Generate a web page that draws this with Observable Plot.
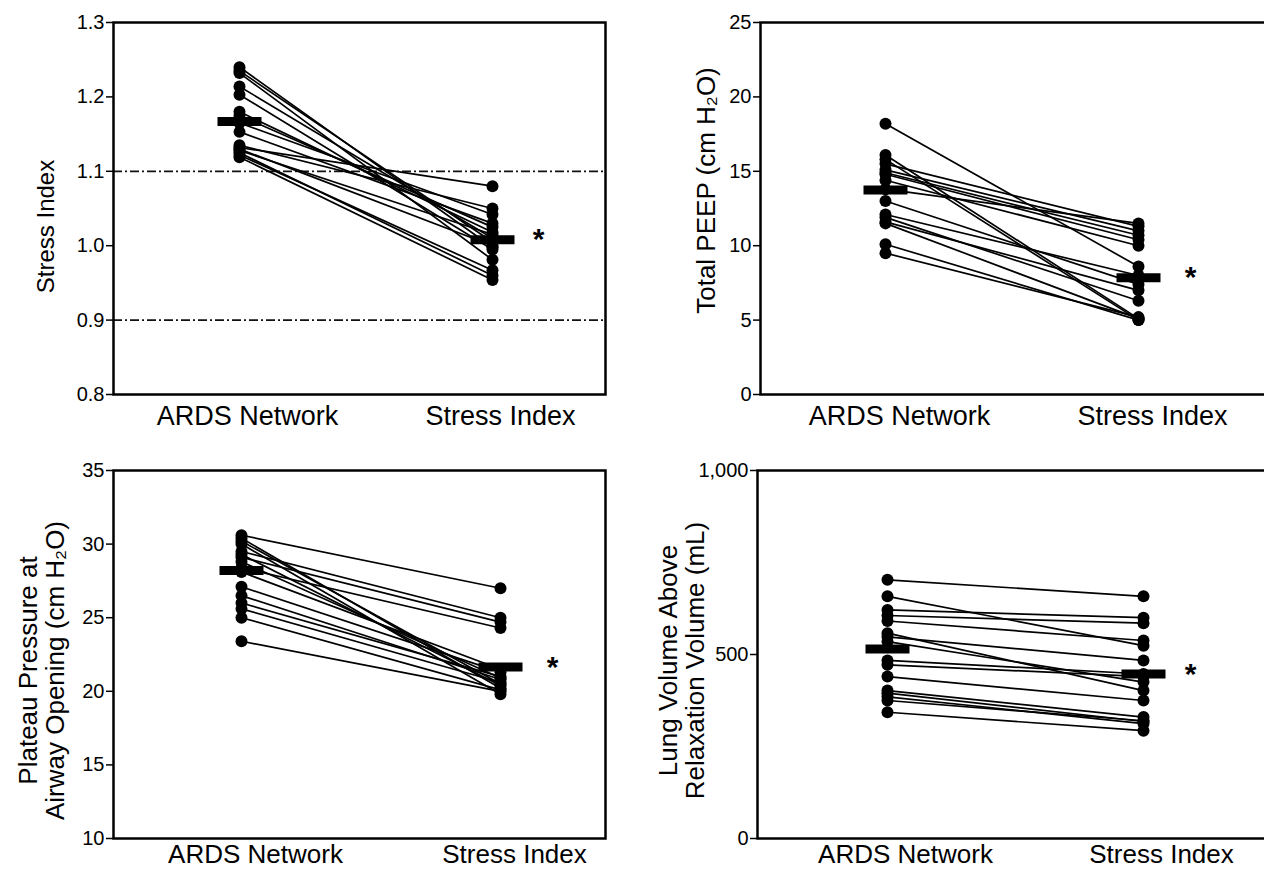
<!DOCTYPE html>
<html><head><meta charset="utf-8">
<script src="https://cdn.jsdelivr.net/npm/d3@7"></script>
<script src="https://cdn.jsdelivr.net/npm/@observablehq/plot@0.6"></script>
<style>
html,body{margin:0;padding:0;background:#fff;}
body{width:1264px;height:870px;overflow:hidden;position:relative;font-family:"Liberation Sans",Arial,sans-serif;}
.panel{position:absolute;width:640px;}
.panel svg{max-width:none !important;}
</style></head><body>
<div id="p1" class="panel" style="left:0;top:0"></div>
<div id="p2" class="panel" style="left:640px;top:0"></div>
<div id="p3" class="panel" style="left:0;top:440px"></div>
<div id="p4" class="panel" style="left:640px;top:440px"></div>
<script>
// Categories
const groups = ["ARDS Network", "Stress Index"];

// Panel A: Stress Index
const stressArds = [1.240, 1.235, 1.232, 1.214, 1.203, 1.180, 1.175, 1.165, 1.153, 1.135, 1.132, 1.130, 1.128, 1.122, 1.119, 1.125];
const stressSI   = [0.998, 1.005, 0.981, 1.010, 0.995, 1.018, 1.025, 1.042, 1.030, 1.050, 1.080, 1.000, 1.015, 0.967, 0.954, 0.960];
const stressMeans = [1.167, 1.008];
const stressRefLines = [1.1, 0.9];
const stressTicks = [0.8, 0.9, 1.0, 1.1, 1.2, 1.3];

// Panel B: Total PEEP (cm H2O)
const peepArds = [18.2, 16.1, 15.8, 15.5, 15.1, 14.9, 14.8, 14.4, 13.8, 13.0, 12.1, 11.9, 11.5, 11.6, 10.1, 9.5];
const peepSI   = [8.6, 5.1, 5.0, 11.3, 11.0, 10.7, 10.4, 10.0, 11.5, 7.4, 8.0, 6.3, 5.1, 7.0, 5.0, 5.2];
const peepMeans = [13.75, 7.85];
const peepTicks = [0, 5, 10, 15, 20, 25];

// Panel C: Plateau pressure at airway opening (cm H2O)
const pplatArds = [30.6, 30.4, 30.2, 30.0, 29.5, 29.1, 28.8, 28.4, 28.1, 27.1, 26.5, 25.6, 25.0, 26.0, 23.4, 29.3];
const pplatSI   = [27.0, 20.2, 20.5, 19.8, 25.0, 24.7, 20.9, 24.3, 21.5, 21.3, 20.8, 20.6, 20.1, 21.0, 20.0, 20.4];
const pplatMeans = [28.2, 21.65];
const pplatTicks = [10, 15, 20, 25, 30, 35];

// Panel D: Lung volume above relaxation volume (mL)
const volArds = [703, 658, 621, 606, 591, 558, 548, 535, 484, 472, 440, 402, 395, 385, 375, 343];
const volSI   = [658, 524, 600, 585, 538, 402, 484, 425, 447, 440, 375, 330, 318, 312, 320, 293];
const volMeans = [515, 447];
const volTicks = [0, 500, 1000];

const FONT = "'Liberation Sans', Arial, Helvetica, sans-serif";
const barSymbol = {draw(ctx) { ctx.rect(-22, -4.5, 44, 9); }};

function panel(cfg) {
  const rows = [];
  cfg.ards.forEach((v, i) => {
    rows.push({id: i, group: groups[0], value: v});
    rows.push({id: i, group: groups[1], value: cfg.si[i]});
  });
  const meanRows = cfg.means.map((m, i) => ({group: groups[i], value: m}));
  const midY = (cfg.domain[0] + cfg.domain[1]) / 2;
  const marks = [];
  if (cfg.refLines) {
    marks.push(Plot.ruleY(cfg.refLines, {stroke: "#111", strokeWidth: 1.8, strokeDasharray: "9,3,2,3"}));
  }
  marks.push(
    Plot.line(rows, {x: "group", y: "value", z: "id", stroke: "black", strokeWidth: 1.7}),
    Plot.dot(rows, {x: "group", y: "value", r: 6, fill: "black", stroke: "none"}),
    Plot.dot(meanRows, {x: "group", y: "value", r: 6, symbol: barSymbol, fill: "black", stroke: "none"}),
    Plot.text([meanRows[1]], {x: "group", y: "value", text: () => "*", dx: cfg.starDx, fontSize: 30, fontWeight: "bold", fill: "black"}),
    Plot.frame({stroke: "black", strokeWidth: 2.5}),
    Plot.axisY({ticks: cfg.ticks, tickFormat: cfg.tickFormat, tickSize: 7, tickPadding: 2, fontSize: 20, label: null, strokeWidth: 1.5}),
    Plot.axisX({tickSize: 0, tickPadding: cfg.xPad, fontSize: cfg.xSize, label: null, dx: cfg.labelDx}),
    Plot.text([cfg.label], {x: () => groups[0], y: () => midY, dx: cfg.labelCx - cfg.xRange[0], dy: cfg.labelDy, rotate: -90, fontSize: cfg.labelSize, lineHeight: 1.05, textAnchor: "middle", lineAnchor: "middle", fill: "black"})
  );
  const chart = Plot.plot({
    width: cfg.width, height: cfg.height,
    marginLeft: cfg.marginLeft, marginRight: cfg.marginRight,
    marginTop: cfg.marginTop, marginBottom: cfg.marginBottom,
    style: {fontFamily: FONT, color: "black", background: "white", overflow: "visible", maxWidth: "none"},
    x: {type: "point", domain: groups, range: cfg.xRange, padding: 0},
    y: {domain: cfg.domain},
    marks
  });
  document.getElementById(cfg.el).appendChild(chart);
}

panel({el: "p1", ards: stressArds, si: stressSI, means: stressMeans, refLines: stressRefLines,
  domain: [0.8, 1.3], ticks: stressTicks, tickFormat: d3.format(".1f"),
  label: "Stress Index", labelCx: 45, labelDy: 18, labelSize: 24,
  width: 640, height: 440, marginLeft: 113, marginRight: 35, marginTop: 22, marginBottom: 46,
  xRange: [239, 492], labelDx: 8, starDx: 46, xPad: 11, xSize: 27});

panel({el: "p2", ards: peepArds, si: peepSI, means: peepMeans,
  domain: [0, 25], ticks: peepTicks, tickFormat: d3.format("d"),
  label: "Total PEEP (cm H\u2082O)", labelCx: 66, labelDy: -18, labelSize: 26,
  width: 640, height: 440, marginLeft: 120, marginRight: 4, marginTop: 22, marginBottom: 46,
  xRange: [245, 498], labelDx: 14, starDx: 52, xPad: 11, xSize: 27});

panel({el: "p3", ards: pplatArds, si: pplatSI, means: pplatMeans,
  domain: [10, 35], ticks: pplatTicks, tickFormat: d3.format("d"),
  label: "Plateau Pressure at\nAirway Opening (cm H\u2082O)", labelCx: 41, labelDy: 16, labelSize: 26,
  width: 640, height: 430, marginLeft: 113, marginRight: 35, marginTop: 30, marginBottom: 32,
  xRange: [241, 500], labelDx: 14, starDx: 52, xPad: 6, xSize: 26});

panel({el: "p4", ards: volArds, si: volSI, means: volMeans,
  domain: [0, 1000], ticks: volTicks, tickFormat: d3.format(","),
  label: "Lung Volume Above\nRelaxation Volume (mL)", labelCx: 41, labelDy: 6, labelSize: 26,
  width: 640, height: 430, marginLeft: 117, marginRight: 4, marginTop: 30, marginBottom: 32,
  xRange: [247, 503], labelDx: 18, starDx: 47, xPad: 6, xSize: 26});
</script>
</body></html>
